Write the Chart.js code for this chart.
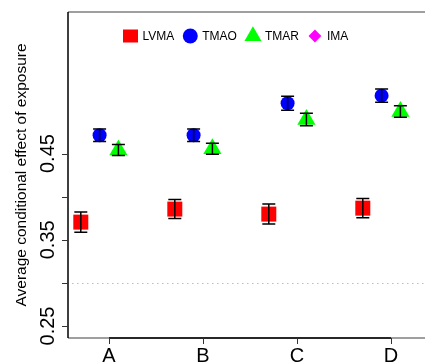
<!DOCTYPE html>
<html>
<head>
<meta charset="utf-8">
<script src="https://cdn.jsdelivr.net/npm/chart.js@4"></script>
<style>
  html, body { margin: 0; padding: 0; background: #fff; overflow: hidden; }
  #wrap { width: 425px; height: 364px; }
</style>
</head>
<body>
<div id="wrap"><canvas id="chart"></canvas></div>
<script>
// Efecto condicional medio por grupo, con barras de error

const categories = ['A', 'B', 'C', 'D'];
const seriesNames = ['LVMA', 'TMAO', 'TMAR', 'IMA'];
const lvma = [0.3705, 0.3856, 0.3798, 0.3867];
const lvmaErr = [0.0118, 0.0110, 0.0116, 0.0112];
const tmao = [0.4713, 0.4713, 0.5084, 0.5172];
const tmaoErr = [0.0073, 0.0073, 0.0081, 0.0077];
const tmar = [0.4541, 0.4556, 0.4896, 0.4989];
const tmarErr = [0.0064, 0.0064, 0.0072, 0.0067];
const ima = [null, null, null, null];
const yTicks = [0.25, 0.30, 0.35, 0.40, 0.45];
const yTickLabels = ['0.25', '', '0.35', '', '0.45'];
const refLine = 0.30;

const offsets = [-0.3, -0.1, 0.1, 0.3];
const colors = ['#FF0000', '#0000FF', '#00FF00', '#FF00FF'];
const FONT = "'Liberation Sans', Arial, sans-serif";

Chart.defaults.font.family = FONT;
Chart.defaults.color = '#000';

function toPoints(values, k) {
  return values.map((v, i) => ({ x: i + 1 + offsets[k], y: v }));
}

function drawMarker(ctx, style, x, y, color) {
  ctx.fillStyle = color;
  ctx.beginPath();
  if (style === 'rect') {
    ctx.rect(x - 7.5, y - 6.5, 15, 13);
  } else if (style === 'circle') {
    ctx.arc(x, y, 7.5, 0, Math.PI * 2);
  } else if (style === 'triangle') {
    const r = 9.8;
    ctx.moveTo(x, y - r);
    ctx.lineTo(x + r * 0.866, y + r / 2);
    ctx.lineTo(x - r * 0.866, y + r / 2);
    ctx.closePath();
  } else {
    ctx.moveTo(x, y - 6.4);
    ctx.lineTo(x + 6.4, y);
    ctx.lineTo(x, y + 6.4);
    ctx.lineTo(x - 6.4, y);
    ctx.closePath();
  }
  ctx.fill();
}

const frame = {
  id: 'frame',
  beforeDatasetsDraw(chart) {
    const { ctx, chartArea: a, scales: { x, y } } = chart;
    ctx.save();

    // línea de referencia punteada
    const ry = Math.round(y.getPixelForValue(refLine)) + 0.5;
    ctx.strokeStyle = '#BDBDBD';
    ctx.lineWidth = 1;
    ctx.setLineDash([1.5, 3.5]);
    ctx.beginPath();
    ctx.moveTo(a.left + 4, ry);
    ctx.lineTo(a.right, ry);
    ctx.stroke();
    ctx.setLineDash([]);

    // caja
    ctx.lineWidth = 1.5;
    ctx.strokeStyle = '#808080';
    ctx.beginPath();
    ctx.moveTo(a.left, a.top);
    ctx.lineTo(a.right, a.top);
    ctx.moveTo(a.left, a.bottom);
    ctx.lineTo(a.right, a.bottom);
    ctx.stroke();

    ctx.strokeStyle = '#000';
    ctx.beginPath();
    ctx.moveTo(a.left, a.top);
    ctx.lineTo(a.left, a.bottom);
    ctx.moveTo(x.getPixelForValue(1), a.bottom);
    ctx.lineTo(x.getPixelForValue(categories.length), a.bottom);
    ctx.stroke();

    // marcas de los ejes
    ctx.lineWidth = 1;
    ctx.strokeStyle = '#333';
    ctx.beginPath();
    yTicks.forEach(v => {
      const py = Math.round(y.getPixelForValue(v)) + 0.5;
      ctx.moveTo(a.left - 6, py);
      ctx.lineTo(a.left, py);
    });
    categories.forEach((c, i) => {
      const px = Math.round(x.getPixelForValue(i + 1)) + 0.5;
      ctx.moveTo(px, a.bottom);
      ctx.lineTo(px, a.bottom + 6);
    });
    ctx.stroke();

    // etiquetas de los ejes
    ctx.fillStyle = '#000';
    ctx.font = '20px ' + FONT;
    ctx.textAlign = 'center';
    ctx.textBaseline = 'alphabetic';
    categories.forEach((c, i) => {
      ctx.fillText(c, x.getPixelForValue(i + 1), 362);
    });
    yTicks.forEach((v, i) => {
      if (!yTickLabels[i]) return;
      ctx.save();
      ctx.translate(54, y.getPixelForValue(v));
      ctx.rotate(-Math.PI / 2);
      ctx.fillText(yTickLabels[i], 0, 0);
      ctx.restore();
    });
    ctx.restore();
  }
};

const errorBars = {
  id: 'errorBars',
  afterDatasetsDraw(chart) {
    const { ctx, scales: { y } } = chart;
    ctx.save();
    ctx.strokeStyle = '#000';
    ctx.lineWidth = 1.5;
    chart.data.datasets.forEach((ds, di) => {
      if (!ds.err) return;
      chart.getDatasetMeta(di).data.forEach((pt, i) => {
        const v = ds.data[i].y;
        if (v == null) return;
        const top = y.getPixelForValue(v + ds.err[i]);
        const bot = y.getPixelForValue(v - ds.err[i]);
        const px = pt.x, w = 6.5;
        ctx.beginPath();
        ctx.moveTo(px, top); ctx.lineTo(px, bot);
        ctx.moveTo(px - w, top); ctx.lineTo(px + w, top);
        ctx.moveTo(px - w, bot); ctx.lineTo(px + w, bot);
        ctx.stroke();
      });
    });
    ctx.restore();
  }
};

const legendBox = {
  id: 'legendBox',
  afterDraw(chart) {
    const ctx = chart.ctx;
    ctx.save();
    ctx.font = '12px ' + FONT;
    ctx.textAlign = 'left';
    ctx.textBaseline = 'middle';
    let cx = 130.5;
    const cy = 36;
    chart.data.datasets.forEach(ds => {
      drawMarker(ctx, ds.pointStyle, cx, cy, ds.backgroundColor);
      ctx.fillStyle = '#000';
      ctx.fillText(ds.label, cx + 12, cy + 1);
      cx += 12 + ctx.measureText(ds.label).width + 16;
    });
    ctx.restore();
  }
};

const styles = ['rect', 'circle', 'triangle', 'rectRot'];
const radii = [10.6, 7, 10.5, 9];
const means = [lvma, tmao, tmar, ima];
const errs = [lvmaErr, tmaoErr, tmarErr, null];

new Chart(document.getElementById('chart'), {
  type: 'scatter',
  data: {
    datasets: seriesNames.map((name, k) => ({
      label: name,
      data: toPoints(means[k], k),
      err: errs[k],
      pointStyle: styles[k],
      pointRadius: radii[k],
      pointBorderWidth: 0,
      backgroundColor: colors[k],
      borderColor: colors[k]
    }))
  },
  options: {
    responsive: true,
    maintainAspectRatio: false,
    animation: false,
    layout: { autoPadding: false, padding: { top: 12, right: 0, left: 0, bottom: 0 } },
    plugins: { legend: { display: false }, tooltip: { enabled: false } },
    scales: {
      x: {
        type: 'linear',
        min: 0.5638,
        max: 4.3617,
        grid: { display: false, drawTicks: false },
        border: { display: false },
        ticks: { display: false },
        afterFit: s => { s.height = 26; }
      },
      y: {
        min: 0.2361,
        max: 0.6142,
        grid: { display: false },
        border: { display: false },
        ticks: { display: false },
        afterFit: s => { s.width = 68; },
        title: {
          display: true,
          text: 'Average conditional effect of exposure',
          font: { size: 15.5 },
          color: '#000',
          padding: { top: 12, bottom: 0 }
        }
      }
    }
  },
  plugins: [frame, errorBars, legendBox]
});
</script>
</body>
</html>
